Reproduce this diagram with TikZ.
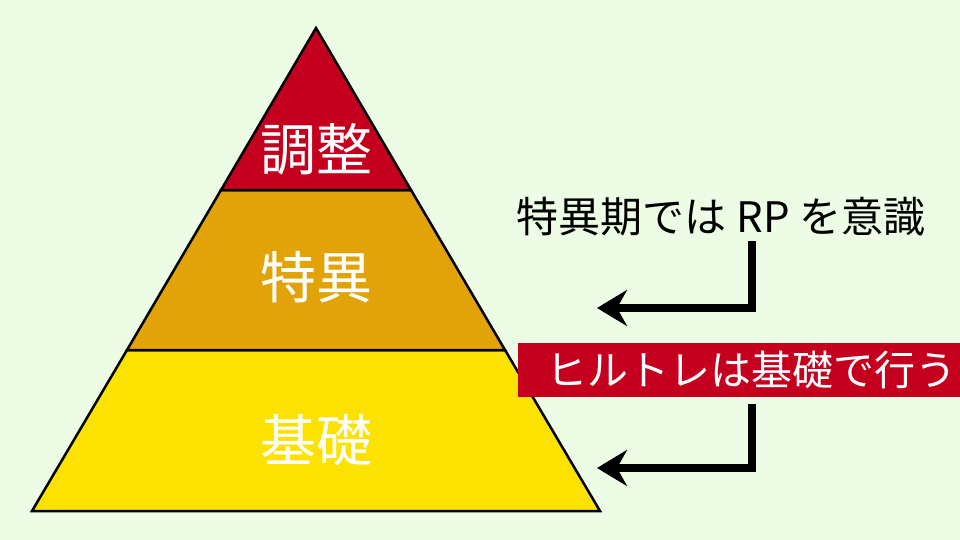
\documentclass[tikz,border=0pt]{standalone}
\usepackage{fontspec}
\setmainfont{Noto Sans CJK JP}
\usepackage{tikz}
\usetikzlibrary{positioning}
\usetikzlibrary{arrows.meta}
\definecolor{bgGreen}{RGB}{237,252,228}
\definecolor{topRed}{RGB}{197,0,30}
\definecolor{midOrange}{RGB}{226,163,8}
\definecolor{baseYellow}{RGB}{251,226,0}

\begin{document}
\begin{tikzpicture}[x=1pt, y=-1pt,
					layer/.style={draw=black, line width=2.5pt, line join=miter},
					layertext/.style={text=white, inner sep=0pt, font=\fontsize{56}{60}\selectfont},
					notetext/.style={text=black, inner sep=0pt, font=\fontsize{42}{46}\selectfont},
					notebox/.style={fill=topRed, text=white, inner xsep=28pt, inner ysep=0pt, minimum height=54pt, anchor=west, font=\fontsize{41}{46}\selectfont},
					bendarrow/.style={line width=8pt, line join=miter, -{Stealth[length=30pt, width=36pt, inset=10pt]}},
					]
					\fill[bgGreen] (0,0) rectangle (960,540);
					\useasboundingbox (0,0) rectangle (960,540);
					%Corners
					\coordinate (apex)  at (316,28);
					\coordinate (l1)    at (221,190);
					\coordinate (r1)    at (411,190);
					\coordinate (l2)    at (127,350);
					\coordinate (r2)    at (505,350);
					\coordinate (l3)    at (32,511);
					\coordinate (r3)    at (600,511);
					%Layers
					\draw[layer, fill=baseYellow] (l2) -- (r2) -- (r3) -- (l3) -- cycle;
					\draw[layer, fill=midOrange]  (l1) -- (r1) -- (r2) -- (l2) -- cycle;
					\draw[layer, fill=topRed]     (apex) -- (r1) -- (l1) -- cycle;
					%Nodes
					\node[layertext]      (adjust)   at (316,149)   {調整};
					\node[layertext]      (special)  at (316,277)   {特異};
					\node[layertext]      (basic)    at (316,440)   {基礎};
					\node[notetext]       (rpnote)   at (721,217)   {特異期では RP を意識};
					\node[notebox]        (hiltnote) at (518,370)   {ヒルトレは基礎で行う};
					%Lines
					\coordinate (c1) at (752,308);
					\coordinate (e1) at (597,308);
					\coordinate (c2) at (752,468);
					\coordinate (e2) at (597,468);
					\draw[bendarrow] (rpnote.south -| c1) ++(0,4) -- (c1) -- (e1);
					\draw[bendarrow] (hiltnote.south -| c2) ++(0,7) -- (c2) -- (e2);
				\end{tikzpicture}
\end{document}
